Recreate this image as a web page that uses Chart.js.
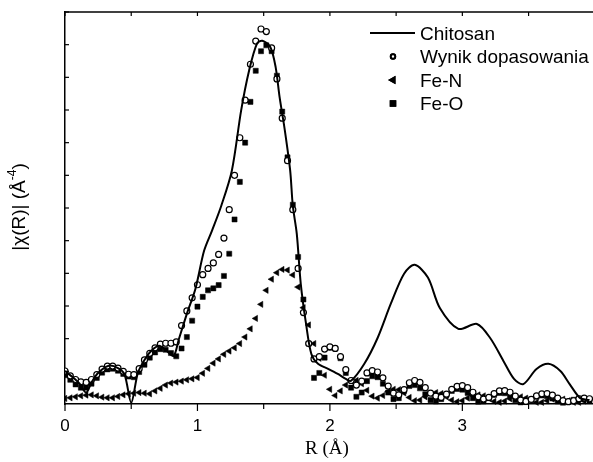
<!DOCTYPE html>
<html>
<head>
<meta charset="utf-8">
<script src="https://cdn.jsdelivr.net/npm/chart.js@4"></script>
<style>
  html, body { margin: 0; padding: 0; background: #fff; overflow: hidden; }
  #wrap { position: relative; width: 600px; height: 462px; }
</style>
</head>
<body>
<div id="wrap"><canvas id="exafsChart" width="600" height="462"></canvas></div>
<script>
// R grid (Å) shared by the fit and both path components
const rGrid = [0.00,0.04,0.08,0.12,0.16,0.20,0.24,0.28,0.32,0.36,0.40,0.44,0.48,0.52,0.56,0.60,0.64,0.68,0.72,0.76,
  0.80,0.84,0.88,0.92,0.96,1.00,1.04,1.08,1.12,1.16,1.20,1.24,1.28,1.32,1.36,1.40,1.44,1.48,1.52,1.56,
  1.60,1.64,1.68,1.72,1.76,1.80,1.84,1.88,1.92,1.96,2.00,2.04,2.08,2.12,2.16,2.20,2.24,2.28,2.32,2.36,
  2.40,2.44,2.48,2.52,2.56,2.60,2.64,2.68,2.72,2.76,2.80,2.84,2.88,2.92,2.96,3.00,3.04,3.08,3.12,3.16,
  3.20,3.24,3.28,3.32,3.36,3.40,3.44,3.48,3.52,3.56,3.60,3.64,3.68,3.72,3.76,3.80,3.84,3.88,3.92,3.96];

// Wynik dopasowania (fit)
const fitValues = [1.01,0.86,0.75,0.68,0.66,0.75,0.90,1.07,1.16,1.16,1.10,1.00,0.91,0.90,1.08,1.35,1.55,1.72,1.83,1.86,
  1.86,1.90,2.40,2.85,3.25,3.65,3.96,4.15,4.32,4.58,5.08,5.95,7.00,8.15,9.30,10.40,11.11,11.48,11.40,10.90,
  9.95,8.75,7.45,5.95,4.15,2.80,1.85,1.38,1.45,1.68,1.75,1.70,1.45,1.05,0.72,0.58,0.70,0.95,1.02,0.98,
  0.80,0.55,0.33,0.28,0.44,0.65,0.72,0.66,0.50,0.33,0.24,0.20,0.30,0.45,0.54,0.56,0.50,0.36,0.22,0.15,
  0.20,0.32,0.40,0.41,0.36,0.24,0.12,0.08,0.14,0.25,0.31,0.32,0.27,0.18,0.10,0.07,0.10,0.16,0.18,0.16];

// Fe-N path
const feNValues = [0.17,0.19,0.22,0.25,0.27,0.28,0.25,0.21,0.19,0.19,0.23,0.28,0.31,0.33,0.35,0.33,0.31,0.40,0.48,0.58,
  0.64,0.67,0.70,0.74,0.77,0.81,0.94,1.09,1.25,1.38,1.52,1.62,1.72,1.85,2.05,2.30,2.62,3.05,3.48,3.82,
  4.02,4.12,4.10,3.95,3.58,2.95,2.42,1.85,1.40,0.88,0.45,0.26,0.40,0.58,0.70,0.72,0.62,0.42,0.24,0.18,
  0.26,0.38,0.45,0.44,0.34,0.20,0.10,0.12,0.22,0.32,0.35,0.32,0.22,0.12,0.07,0.10,0.18,0.25,0.28,0.25,
  0.17,0.08,0.05,0.09,0.16,0.21,0.22,0.18,0.11,0.05,0.05,0.10,0.15,0.17,0.15,0.10,0.05,0.05,0.09,0.12];

// Fe-O path
const feOValues = [0.88,0.74,0.60,0.50,0.50,0.62,0.80,0.96,1.06,1.08,1.02,0.92,0.84,0.82,0.98,1.20,1.42,1.58,1.68,1.66,
  1.56,1.46,1.70,2.05,2.55,2.98,3.28,3.48,3.54,3.64,3.92,4.60,5.65,6.80,8.00,9.25,10.20,10.80,10.98,10.80,
  10.05,8.95,7.55,6.10,4.50,3.20,1.85,0.80,0.95,1.42,1.72,1.70,1.40,0.95,0.50,0.22,0.35,0.70,0.85,0.82,
  0.62,0.35,0.15,0.18,0.40,0.55,0.58,0.48,0.30,0.12,0.08,0.15,0.28,0.40,0.46,0.44,0.34,0.18,0.07,0.08,
  0.18,0.28,0.34,0.33,0.25,0.12,0.05,0.06,0.14,0.22,0.26,0.24,0.17,0.08,0.04,0.07,0.13,0.17,0.16,0.11];

// Chitosan (measured curve)
const chitosanR = [0.00,0.07,0.11,0.16,0.20,0.25,0.33,0.40,0.45,0.50,0.55,0.60,0.65,0.71,0.77,0.82,0.86,0.92,0.985,1.05,
  1.11,1.18,1.26,1.33,1.39,1.45,1.49,1.55,1.59,1.62,1.66,1.70,1.72,1.75,1.78,1.82,1.86,1.91,1.99,2.06,
  2.12,2.16,2.26,2.36,2.46,2.56,2.64,2.74,2.83,2.97,3.11,3.21,3.31,3.39,3.46,3.56,3.65,3.74,3.81,3.89,3.96];
const chitosanValues = [1.01,0.78,0.62,0.35,0.66,0.95,1.17,1.10,0.90,0.04,0.95,1.35,1.62,1.78,1.62,1.47,1.99,2.76,3.53,4.69,
  5.31,6.07,7.15,8.99,10.21,11.04,11.12,10.93,10.32,9.40,8.37,7.15,6.07,5.21,3.68,2.45,1.53,1.23,1.07,0.92,
  0.77,0.71,1.23,2.02,3.07,3.99,4.26,3.87,2.94,2.30,2.45,2.02,1.32,0.77,0.61,1.07,1.23,1.01,0.61,0.18,0.12];

// axes
const xMajorTicks = [0, 1, 2, 3, 4];
const xMinorTicks = [0.5, 1.5, 2.5, 3.5];
const xTickLabels = ['0', '1', '2', '3'];
const yTicks = [1, 2, 3, 4, 5, 6, 7, 8, 9, 10, 11, 12];
const legendLabels = ['Chitosan', 'Wynik dopasowania', 'Fe-N', 'Fe-O'];

const toPoints = (xs, ys) => xs.map((r, i) => ({ x: r, y: ys[i] }));
const sansFont = '"Liberation Sans", Arial, sans-serif';
const serifFont = '"Liberation Serif", "Times New Roman", serif';

// ticks, frame, axis titles and legend
const decorPlugin = {
  id: 'decor',
  afterDraw(chart) {
    const { ctx, chartArea: a, scales: { x, y } } = chart;
    const seg = (x1, y1, x2, y2) => { ctx.beginPath(); ctx.moveTo(x1, y1); ctx.lineTo(x2, y2); ctx.stroke(); };
    ctx.save();
    ctx.strokeStyle = '#000';
    ctx.fillStyle = '#000';

    ctx.lineWidth = 1.5;
    seg(a.left, a.top, a.right, a.top);

    ctx.lineWidth = 1.2;
    xMajorTicks.forEach(v => {
      const p = x.getPixelForValue(v);
      seg(p, a.bottom, p, a.bottom + 7);
      seg(p, a.top, p, a.top + 4);
    });
    xMinorTicks.forEach(v => {
      const p = x.getPixelForValue(v);
      seg(p, a.bottom, p, a.bottom + 5);
      seg(p, a.top, p, a.top + 4);
    });
    yTicks.forEach(v => {
      const p = y.getPixelForValue(v);
      seg(a.left, p, a.left + 4, p);
    });

    ctx.font = '17px ' + sansFont;
    ctx.textAlign = 'center';
    ctx.textBaseline = 'alphabetic';
    xTickLabels.forEach((lab, i) => {
      ctx.fillText(lab, x.getPixelForValue(xMajorTicks[i]), 431);
    });

    ctx.font = '19px ' + serifFont;
    ctx.fillText('R (Å)', (a.left + a.right) / 2 - 3, 454);

    // y title with superscript
    ctx.save();
    ctx.translate(25, 207);
    ctx.rotate(-Math.PI / 2);
    const main = '|χ(R)| (Å';
    const sup = '-4';
    ctx.font = '19px ' + sansFont;
    const w1 = ctx.measureText(main).width;
    const w3 = ctx.measureText(')').width;
    ctx.font = '12px ' + sansFont;
    const w2 = ctx.measureText(sup).width;
    let sx = -(w1 + w2 + w3) / 2;
    ctx.textAlign = 'left';
    ctx.font = '19px ' + sansFont;
    ctx.fillText(main, sx, 0);
    ctx.font = '12px ' + sansFont;
    ctx.fillText(sup, sx + w1, -9);
    ctx.font = '19px ' + sansFont;
    ctx.fillText(')', sx + w1 + w2, 0);
    ctx.restore();

    // legend
    const rows = [39.5, 63, 86.5, 110];
    ctx.font = '19px ' + sansFont;
    ctx.textAlign = 'left';
    legendLabels.forEach((lab, i) => ctx.fillText(lab, 420, rows[i]));
    ctx.lineWidth = 2;
    seg(370, 33, 415, 33);
    const ds = chart.data.datasets;
    [1, 2, 3].forEach((di, k) => {
      const d = ds[di];
      Chart.helpers.drawPoint(ctx, {
        pointStyle: d.pointStyle,
        rotation: d.rotation || 0,
        radius: d.legendRadius,
        borderWidth: 1
      }, 393, rows[k + 1] - 6.5);
      ctx.fillStyle = d.pointBackgroundColor;
      ctx.strokeStyle = '#000';
      ctx.fill();
      ctx.stroke();
      ctx.fillStyle = '#000';
    });
    ctx.restore();
  }
};

new Chart(document.getElementById('exafsChart'), {
  type: 'scatter',
  data: {
    datasets: [
      {
        label: legendLabels[0],
        data: toPoints(chitosanR, chitosanValues),
        showLine: true,
        borderColor: '#000',
        borderWidth: 2,
        pointRadius: 0,
        tension: 0.3,
        order: 0
      },
      {
        label: legendLabels[1],
        data: toPoints(rGrid, fitValues),
        pointStyle: 'circle',
        pointRadius: 3,
        pointBackgroundColor: '#fff',
        pointBorderColor: '#000',
        pointBorderWidth: 1.2,
        legendRadius: 2.2,
        order: 1,
        clip: { left: 0, top: false, right: 0, bottom: 4 }
      },
      {
        label: legendLabels[2],
        data: toPoints(rGrid, feNValues),
        pointStyle: 'triangle',
        rotation: -90,
        pointRotation: -90,
        pointRadius: 3.6,
        pointBackgroundColor: '#000',
        pointBorderColor: '#000',
        pointBorderWidth: 0.5,
        legendRadius: 3,
        order: 2,
        clip: { left: 0, top: false, right: 0, bottom: 4 }
      },
      {
        label: legendLabels[3],
        data: toPoints(rGrid, feOValues),
        pointStyle: 'rect',
        pointRadius: 3.6,
        pointBackgroundColor: '#000',
        pointBorderColor: '#000',
        pointBorderWidth: 0.5,
        legendRadius: 3.2,
        order: 3,
        clip: { left: 0, top: false, right: 0, bottom: 4 }
      }
    ]
  },
  options: {
    responsive: false,
    animation: false,
    events: [],
    layout: { padding: { left: 0, top: 12, right: 2, bottom: 0 } },
    plugins: { legend: { display: false }, tooltip: { enabled: false } },
    scales: {
      x: {
        type: 'linear', min: 0, max: 4,
        grid: { display: false },
        border: { display: true, color: '#000', width: 1.5 },
        ticks: { display: false },
        afterFit(scale) { scale.height = 58; }
      },
      y: {
        type: 'linear', min: 0, max: 12,
        grid: { display: false },
        border: { display: true, color: '#000', width: 1.5 },
        ticks: { display: false },
        afterFit(scale) { scale.width = 65; }
      }
    }
  },
  plugins: [decorPlugin]
});
</script>
</body>
</html>
